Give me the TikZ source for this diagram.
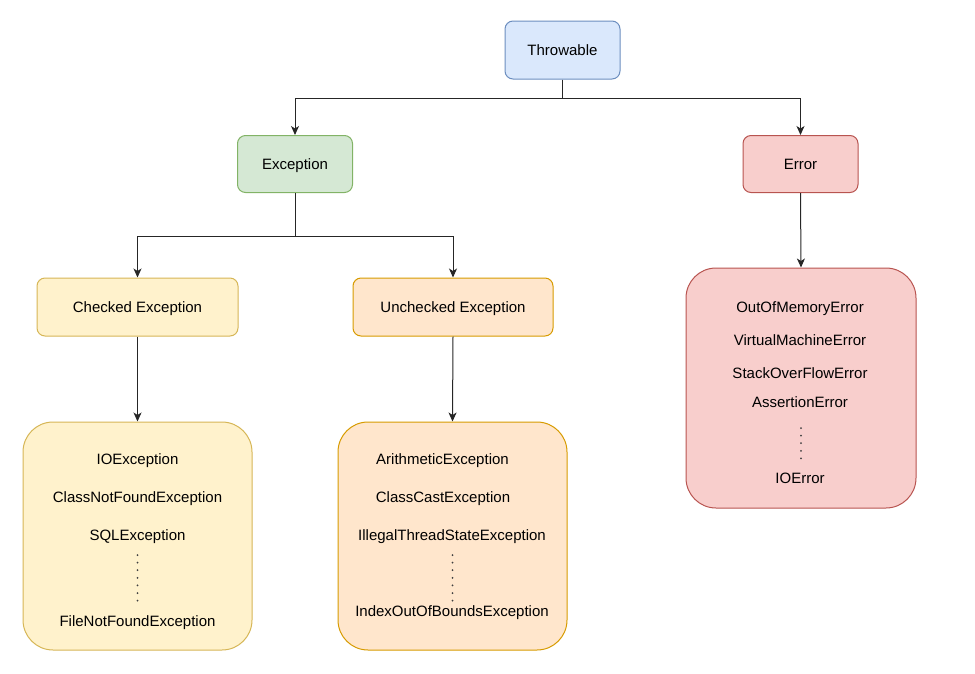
\documentclass[tikz,border=0pt]{standalone}
\usepackage{fontspec}
\setmainfont{Liberation Sans}
\usetikzlibrary{arrows.meta}
\definecolor{blueF}{HTML}{DAE8FC}\definecolor{blueD}{HTML}{6C8EBF}
\definecolor{greenF}{HTML}{D5E8D4}\definecolor{greenD}{HTML}{82B366}
\definecolor{redF}{HTML}{F8CECC}\definecolor{redD}{HTML}{B85450}
\definecolor{yelF}{HTML}{FFF2CC}\definecolor{yelD}{HTML}{D6B656}
\definecolor{orF}{HTML}{FFE6CC}\definecolor{orD}{HTML}{D79B00}
\tikzset{
  box/.style={draw, line width=1pt, rounded corners=8pt, inner sep=0pt, align=center, text height=11pt, text depth=0pt, font=\fontsize{15}{18}\selectfont},
  listbox/.style={draw, line width=1pt, rounded corners=30pt, inner sep=0pt},
  item/.style={inner sep=0pt, text height=11pt, text depth=0pt, font=\fontsize{15}{18}\selectfont},
  arr/.style={line width=1pt, draw=black!85, -{Stealth[length=9pt,width=8pt,inset=2.5pt]}},
  dotline/.style={line width=2pt, draw=black!75, line cap=round, dash pattern=on 0pt off 7.6pt}
}
\begin{document}
\begin{tikzpicture}[x=1pt,y=-1pt]
\useasboundingbox (0,0) rectangle (975,673);
\node[box, fill=blueF, draw=blueD, minimum width=115pt, minimum height=58pt] (thr) at (562.5,50) {Throwable};
\node[box, fill=greenF, draw=greenD, minimum width=115pt, minimum height=57pt] (exc) at (295,164) {Exception};
\node[box, fill=redF, draw=redD, minimum width=115pt, minimum height=57pt] (err) at (800.5,164) {Error};
\node[box, fill=yelF, draw=yelD, minimum width=201pt, minimum height=58pt] (chk) at (137.5,307) {Checked Exception};
\node[box, fill=orF, draw=orD, minimum width=200pt, minimum height=58pt] (unc) at (453,307) {Unchecked Exception};
\node[listbox, fill=yelF, draw=yelD, minimum width=229pt, minimum height=228pt] (chkl) at (137.5,536) {};
\node[listbox, fill=orF, draw=orD, minimum width=229pt, minimum height=228pt] (uncl) at (452.5,536) {};
\node[listbox, fill=redF, draw=redD, minimum width=230pt, minimum height=240pt] (errl) at (801,388) {};
% connectors
\draw[arr] (thr.south) -- ++(0,19) -| (exc.north);
\draw[arr] (thr.south) -- ++(0,19) -| (err.north);
\draw[arr] (exc.south) -- ++(0,43) -| (chk.north);
\draw[arr] (exc.south) -- ++(0,43) -| (unc.north);
\draw[arr] (chk.south) -- (chkl.north);
\draw[arr] (unc.south) -- (uncl.north);
\draw[arr] (err.south) -- (errl.north);
% checked list
\node[item] (c1) at (137.5,459) {IOException};
\node[item] (c2) at (137.5,497) {ClassNotFoundException};
\node[item] (c3) at (137.5,535) {SQLException};
\node[item] (c4) at (137.5,621) {FileNotFoundException};
\coordinate (cd1) at (137.5,555); \coordinate (cd2) at (137.5,603);
\draw[dotline] (cd1) -- (cd2);
% unchecked list
\node[item] (u1) at (442.5,459) {ArithmeticException};
\node[item] (u2) at (443,497) {ClassCastException};
\node[item] (u3) at (452,535) {IllegalThreadStateException};
\node[item] (u4) at (452,611) {IndexOutOfBoundsException};
\coordinate (ud1) at (452.5,555); \coordinate (ud2) at (452.5,603);
\draw[dotline] (ud1) -- (ud2);
% error list
\node[item] (e1) at (800,307) {OutOfMemoryError};
\node[item] (e2) at (800,340) {VirtualMachineError};
\node[item] (e3) at (800,373) {StackOverFlowError};
\node[item] (e4) at (800,402) {AssertionError};
\node[item] (e5) at (800,478) {IOError};
\coordinate (ed1) at (801,428); \coordinate (ed2) at (801,459);
\draw[dotline] (ed1) -- (ed2);
\end{tikzpicture}
\end{document}
